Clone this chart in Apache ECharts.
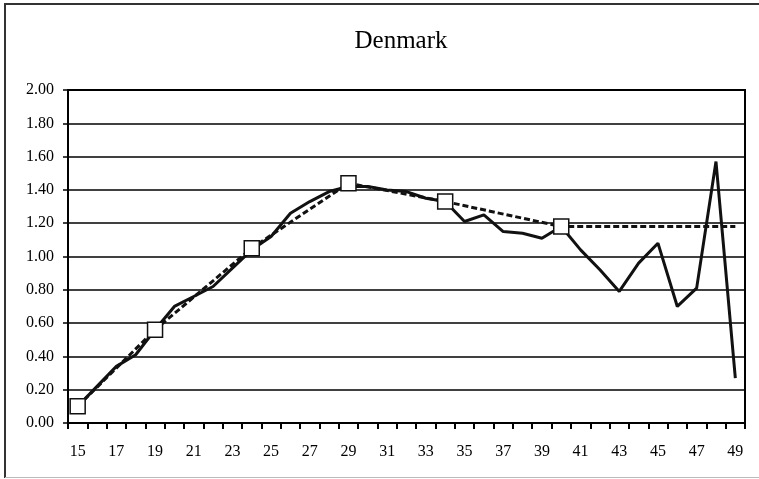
<!DOCTYPE html>
<html>
<head>
<meta charset="utf-8">
<script src="https://cdn.jsdelivr.net/npm/echarts@6/dist/echarts.min.js"></script>
<style>
  html, body { margin: 0; padding: 0; background: #fff; }
  #wrap { width: 759px; height: 479px; }
</style>
</head>
<body>
<div id="wrap"></div>
<script>
// ages on x axis
var ages = [];
for (var a = 15; a <= 49; a++) ages.push(String(a));

// solid line, one value per age 15..49
var observed = [0.10, 0.22, 0.34, 0.41, 0.56, 0.70, 0.76, 0.82, 0.93, 1.04,
                1.12, 1.26, 1.33, 1.39, 1.42, 1.42, 1.40, 1.39, 1.35, 1.33,
                1.21, 1.25, 1.15, 1.14, 1.11, 1.18, 1.04, 0.92, 0.79, 0.96,
                1.08, 0.70, 0.81, 1.57, 0.27];

// dashed line: marked points, then flat to the last age
var fitAges = ['15', '19', '24', '29', '34', '40', '49'];
var fitValues = [0.10, 0.56, 1.05, 1.44, 1.33, 1.18, 1.18];

var fitData = ages.map(function (age) {
    var i = fitAges.indexOf(age);
    if (i < 0) return null;
    if (age === '49') return { value: fitValues[i], symbol: 'none' };
    return fitValues[i];
});

var serif = 'Liberation Serif';

var chart = echarts.init(document.getElementById('wrap'));
chart.setOption({
    animation: false,
    backgroundColor: '#fff',
    title: {
        text: 'Denmark',
        left: 396,
        top: 24,
        textAlign: 'center',
        textStyle: { fontFamily: serif, fontSize: 25, fontWeight: 'normal', color: '#000' }
    },
    // outer frame: dark top and left, faint bottom
    graphic: [
        { type: 'line', shape: { x1: 4, y1: 4, x2: 759, y2: 4 }, style: { stroke: '#333', lineWidth: 2 }, silent: true },
        { type: 'line', shape: { x1: 5, y1: 3, x2: 5, y2: 478 }, style: { stroke: '#333', lineWidth: 2 }, silent: true },
        { type: 'line', shape: { x1: 5, y1: 477.5, x2: 759, y2: 477.5 }, style: { stroke: '#bbb', lineWidth: 1 }, silent: true }
    ],
    grid: {
        left: 68, right: 14, top: 90, bottom: 56,
        show: true, borderColor: '#000', borderWidth: 2
    },
    xAxis: {
        type: 'category',
        data: ages,
        boundaryGap: true,
        axisLine: { lineStyle: { color: '#000', width: 2 } },
        axisTick: { show: true, interval: 0, alignWithLabel: false, length: 6, lineStyle: { color: '#000', width: 2 } },
        axisLabel: { interval: 1, color: '#000', fontFamily: serif, fontSize: 16, margin: 21 },
        splitLine: { show: false }
    },
    yAxis: {
        type: 'value',
        min: 0, max: 2, interval: 0.2,
        axisLine: { show: true, lineStyle: { color: '#000', width: 2 } },
        axisTick: { show: true, length: 5, lineStyle: { color: '#000', width: 1.5 } },
        axisLabel: {
            color: '#000', fontFamily: serif, fontSize: 16, margin: 14,
            formatter: function (v) { return v.toFixed(2); }
        },
        splitLine: { show: true, lineStyle: { color: '#000', width: 1.5 } }
    },
    series: [
        {
            name: 'observed',
            type: 'line',
            data: observed,
            symbol: 'none',
            lineStyle: { color: '#111', width: 3 },
            z: 2
        },
        {
            name: 'fitted',
            type: 'line',
            data: fitData,
            connectNulls: true,
            showAllSymbol: true,
            symbol: 'rect',
            symbolSize: 15,
            itemStyle: { color: '#fff', borderColor: '#111', borderWidth: 1.5 },
            lineStyle: { color: '#111', width: 3, type: [6, 3] },
            z: 3
        }
    ]
});
</script>
</body>
</html>
